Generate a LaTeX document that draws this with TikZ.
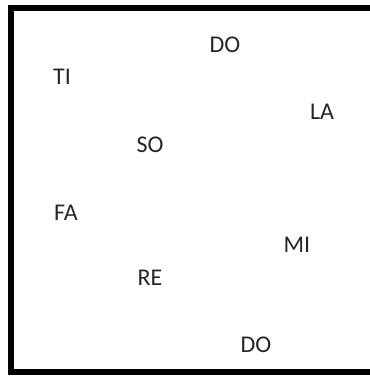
\documentclass[tikz,border=0pt]{standalone}
\usepackage{fontspec}
\setmainfont{Carlito}
\begin{document}
\begin{tikzpicture}[x = 0.75pt, y = -0.75pt, every node/.style={font = \fontsize{18}{21}\selectfont, text = black!85}]
\useasboundingbox (0,0) rectangle (369,376);
\draw[line width = 4.5pt] (11,8) rectangle (373.5,372);
\node at (225,45) (DOhigh) {DO};
\node at (62,77) (TI) {TI};
\node at (322,112) (LA) {LA};
\node at (150,145) (SO) {SO};
\node at (66,213) (FA) {FA};
\node at (297,245) (MI) {MI};
\node at (150,278) (RE) {RE};
\node at (256,345) (DOlow) {DO};
\end{tikzpicture}
\end{document}
